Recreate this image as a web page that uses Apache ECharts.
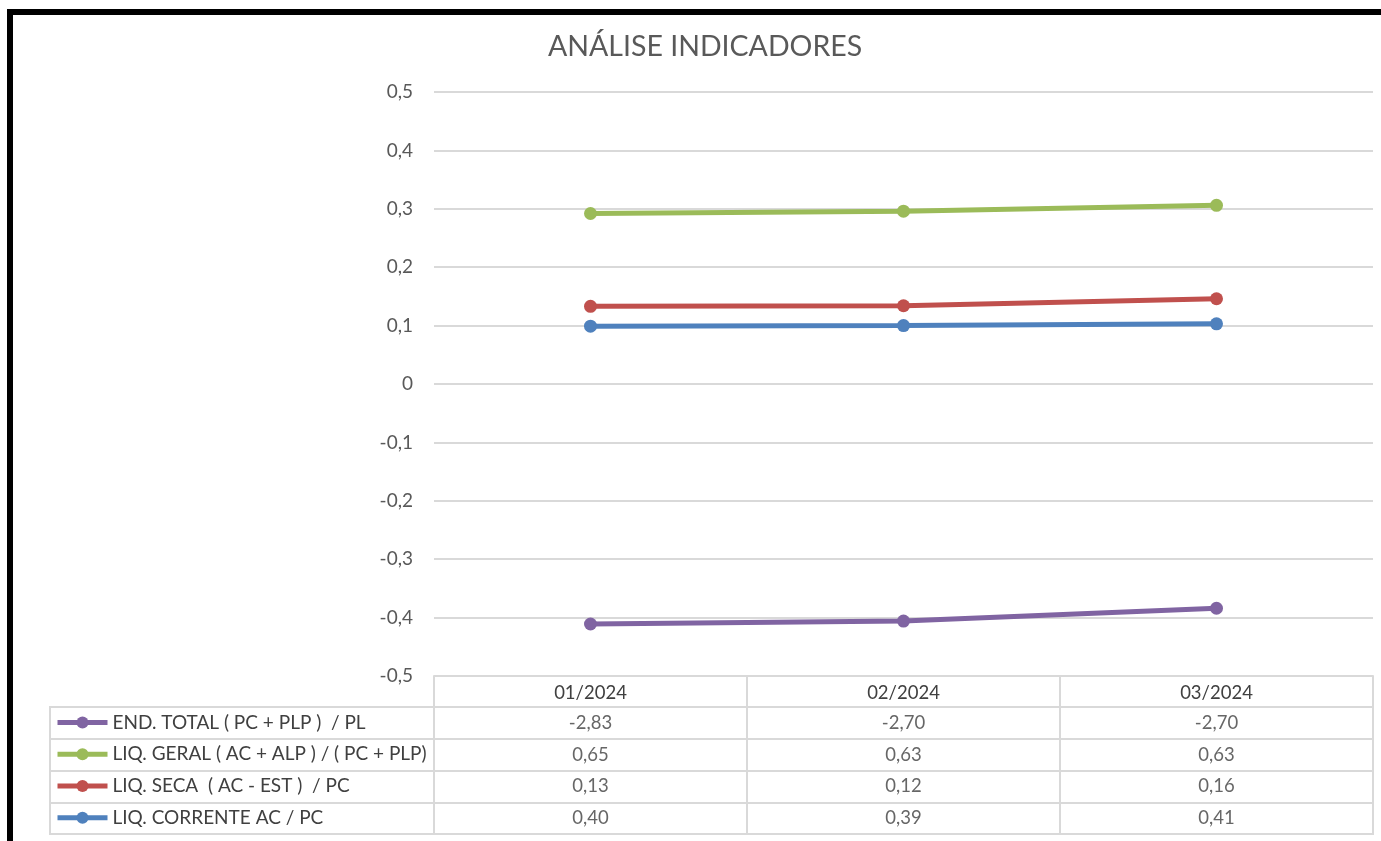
<!DOCTYPE html>
<html>
<head>
<meta charset="utf-8">
<title>Análise Indicadores</title>
<script src="https://cdn.jsdelivr.net/npm/echarts@6/dist/echarts.min.js"></script>
<style>
html, body { margin: 0; padding: 0; background: #fff; }
#chart { width: 1381px; height: 841px; }
</style>
</head>
<body>
<div id="chart"></div>
<script>
// categorias (meses)
var meses = ['01/2024', '02/2024', '03/2024'];
// nomes dos indicadores, na ordem da tabela
var nomes = [
    'END. TOTAL ( PC + PLP )  / PL',
    'LIQ. GERAL ( AC + ALP ) / ( PC + PLP)',
    'LIQ. SECA  ( AC - EST )  / PC',
    'LIQ. CORRENTE AC / PC'
];
var cores = ['#8064A2', '#9BBB59', '#C0504D', '#4F81BD'];

// valores desenhados no grafico
var endTotal = [-0.411, -0.406, -0.384];
var liqGeral = [0.292, 0.296, 0.306];
var liqSeca = [0.133, 0.134, 0.146];
var liqCorrente = [0.099, 0.100, 0.103];

// valores da tabela de dados
var tabEndTotal = ['-2,83', '-2,70', '-2,70'];
var tabLiqGeral = ['0,65', '0,63', '0,63'];
var tabLiqSeca = ['0,13', '0,12', '0,16'];
var tabLiqCorrente = ['0,40', '0,39', '0,41'];

// eixo Y
var yMin = -0.5, yMax = 0.5, yStep = 0.1;

var fonte = 'Lato';
var cinzaGrade = '#d9d9d9';
var cinzaTexto = '#595959';

var valores = [endTotal, liqGeral, liqSeca, liqCorrente];
var tabela = [tabEndTotal, tabLiqGeral, tabLiqSeca, tabLiqCorrente];

var myChart = echarts.init(document.getElementById('chart'), null, { renderer: 'canvas' });

// series das linhas
var series = [];
for (var i = 0; i < nomes.length; i++) {
    series.push({
        name: nomes[i],
        type: 'line',
        xAxisIndex: 0,
        yAxisIndex: 0,
        data: valores[i],
        symbol: 'circle',
        symbolSize: 13,
        lineStyle: { width: 5, color: cores[i] },
        itemStyle: { color: cores[i] },
        z: 10 - i
    });
}

// celulas da tabela de dados
var celulas = [];
for (var r = 0; r < nomes.length; r++) {
    for (var c = 0; c < meses.length; c++) {
        celulas.push({ value: [meses[c], nomes[r]], texto: tabela[r][c] });
    }
}
series.push({
    name: 'tabela',
    type: 'scatter',
    xAxisIndex: 1,
    yAxisIndex: 1,
    symbolSize: 1,
    silent: true,
    itemStyle: { color: 'transparent' },
    label: {
        show: true,
        position: 'inside',
        fontFamily: fonte,
        fontSize: 18.5,
        color: '#404040',
        formatter: function (p) { return p.data.texto; }
    },
    data: celulas
});

function fmtY(v) {
    var n = Math.round(v * 10) / 10;
    return String(n).replace('.', ',');
}

var option = {
    backgroundColor: '#fff',
    animation: false,
    title: {
        text: 'ANÁLISE INDICADORES',
        left: 548,
        top: 32,
        padding: 0,
        textStyle: { fontFamily: fonte, fontSize: 28.5, fontWeight: 'normal', color: cinzaTexto }
    },
    legend: {
        data: nomes,
        orient: 'vertical',
        left: 55,
        top: 712.5,
        padding: 0,
        itemWidth: 50,
        itemHeight: 15,
        itemGap: 11.75,
        selectedMode: false,
        lineStyle: { width: 5 },
        textStyle: { fontFamily: fonte, fontSize: 19, lineHeight: 20, color: '#404040' }
    },
    grid: [
        // area do grafico
        { left: 434, right: 8, top: 92, bottom: 165 },
        // colunas de valores da tabela
        { left: 434, width: 939, top: 707, height: 127, show: true, borderColor: cinzaGrade, borderWidth: 2 },
        // coluna da legenda
        { left: 50, width: 384, top: 707, height: 127, show: true, borderColor: cinzaGrade, borderWidth: 2 }
    ],
    xAxis: [
        {
            gridIndex: 0,
            type: 'category',
            data: meses,
            position: 'bottom',
            axisLine: { onZero: false, lineStyle: { color: cinzaGrade, width: 2 } },
            axisTick: { show: true, length: 31, lineStyle: { color: cinzaGrade, width: 2 } },
            axisLabel: { margin: 8, fontFamily: fonte, fontSize: 18.5, color: '#404040' },
            splitLine: { show: false }
        },
        {
            gridIndex: 1,
            type: 'category',
            data: meses,
            axisLine: { show: false },
            axisTick: { show: false },
            axisLabel: { show: false },
            splitLine: { show: true, lineStyle: { color: cinzaGrade, width: 2 } }
        },
        {
            gridIndex: 2,
            type: 'value',
            min: 0,
            max: 1,
            show: false
        }
    ],
    yAxis: [
        {
            gridIndex: 0,
            type: 'value',
            min: yMin,
            max: yMax,
            interval: yStep,
            axisLine: { show: false },
            axisTick: { show: false },
            axisLabel: { margin: 21, fontFamily: fonte, fontSize: 19, color: cinzaTexto, formatter: fmtY },
            splitLine: { show: true, lineStyle: { color: cinzaGrade, width: 2 } }
        },
        {
            gridIndex: 1,
            type: 'category',
            data: nomes,
            inverse: true,
            axisLine: { show: false },
            axisTick: { show: false },
            axisLabel: { show: false },
            splitLine: { show: true, lineStyle: { color: cinzaGrade, width: 2 } }
        },
        {
            gridIndex: 2,
            type: 'category',
            data: nomes,
            inverse: true,
            axisLine: { show: false },
            axisTick: { show: false },
            axisLabel: { show: false },
            splitLine: { show: true, lineStyle: { color: cinzaGrade, width: 2 } }
        }
    ],
    graphic: [
        // moldura preta (topo e esquerda)
        { type: 'rect', left: 7, top: 9, shape: { width: 1374, height: 6 }, style: { fill: '#000' }, z: 100 },
        { type: 'rect', left: 7, top: 9, shape: { width: 6, height: 832 }, style: { fill: '#000' }, z: 100 }
    ],
    series: series
};

myChart.setOption(option);
</script>
</body>
</html>
